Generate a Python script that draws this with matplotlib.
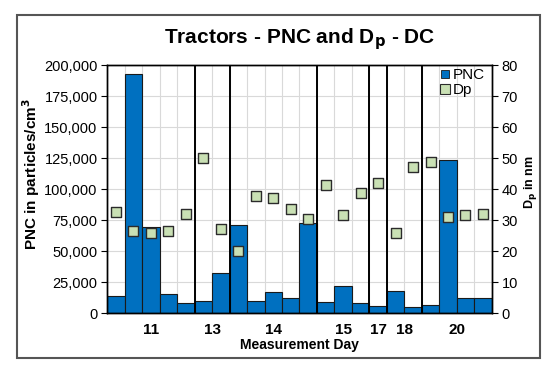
import matplotlib
matplotlib.use("Agg")
import matplotlib.pyplot as plt
from matplotlib.patches import Rectangle
from matplotlib.lines import Line2D
import numpy as np

plt.rcParams['font.family'] = ['Liberation Sans', 'DejaVu Sans']

days = ["11", "13", "14", "15", "17", "18", "20"]
bars_per_day = [5, 2, 5, 3, 1, 2, 4]
pnc = [13500, 193000, 69000, 15300, 8000,
       10000, 32000,
       71000, 10000, 16700, 12000, 73000,
       8600, 21500, 7800,
       6000,
       18000, 4800,
       6500, 123500, 12000, 12000]
dp = [32.5, 26.6, 25.8, 26.6, 32.0,
      50.0, 27.1,
      20.1, 37.6, 37.1, 33.6, 30.4,
      41.3, 31.7, 38.7,
      41.8,
      25.9, 47.2,
      48.6, 31.1, 31.6, 32.1]

fig = plt.figure(figsize=(5.5, 3.74), dpi=100)
ax = fig.add_axes([0.195, 0.163, 0.699, 0.663])
ax2 = ax.twinx()

x = np.arange(len(pnc))
ax.bar(x, pnc, width=1.0, color='#0070C0', edgecolor='#1a1a1a', linewidth=0.8, zorder=2)
ax.set_xlim(-0.5, len(pnc) - 0.5)
ax.set_ylim(0, 200000)
ax.set_yticks(np.arange(0, 200001, 25000))
ax.set_yticklabels([f"{v:,}" for v in range(0, 200001, 25000)], fontsize=10.5)
ax.yaxis.grid(True, color='#D9D9D9', linewidth=0.8, zorder=0)
for b in np.arange(-0.5, len(pnc), 1.0):
    ax.axvline(b, color='#D9D9D9', linewidth=0.8, zorder=0)
ax.set_axisbelow(True)

bounds = np.cumsum(bars_per_day)
for b in bounds[:-1]:
    ax.axvline(b - 0.5, color='black', linewidth=1.4, zorder=3)

centers = bounds - np.array(bars_per_day) / 2.0 - 0.5
ax.set_xticks(centers)
ax.set_xticklabels(days, fontsize=11, fontweight='bold')
ax.tick_params(axis='x', length=0, pad=7)
ax.tick_params(axis='y', length=4, width=0.8, pad=3)
ax.set_xlabel("Measurement Day", fontsize=10, fontweight='bold', labelpad=1)
ax.set_ylabel("PNC in particles/cm$^\\mathbf{3}$", fontsize=11, fontweight='bold')
ax.yaxis.set_label_coords(-0.17, 0.56)

ax2.scatter(x, dp, marker='s', s=60, facecolor='#C9E0B4', edgecolor='#2b2b2b', linewidth=1.0, zorder=4)
ax2.set_ylim(0, 80)
ax2.set_yticks(np.arange(0, 81, 10))
ax2.tick_params(axis='y', length=4, width=0.8, labelsize=10.5, pad=3)
ax2.set_ylabel("D$_\\mathbf{p}$ in nm", fontsize=9, fontweight='bold')
ax2.yaxis.set_label_coords(1.08, 0.53)

for s in list(ax.spines.values()) + list(ax2.spines.values()):
    s.set_linewidth(1.0)
    s.set_color('black')

handles = [Line2D([], [], marker='s', linestyle='none', markersize=6, markerfacecolor='#0070C0', markeredgecolor='#1a1a1a', markeredgewidth=0.6),
           Line2D([], [], marker='s', linestyle='none', markersize=7, markerfacecolor='#C9E0B4', markeredgecolor='#2b2b2b', markeredgewidth=0.8)]
ax2.legend(handles, ["PNC", "Dp"], loc='upper right', bbox_to_anchor=(1.01, 1.03), frameon=False,
           fontsize=11, handlelength=0.6, handletextpad=0.2, borderpad=0.2, labelspacing=0.05)

fig.text(0.545, 0.895, "Tractors - PNC and D$_\\mathbf{p}$ - DC", ha='center', va='center', fontsize=15, fontweight='bold')

fig.patches.append(Rectangle((17/550, 1 - 358/374), (540 - 17)/550, (358 - 15)/374, transform=fig.transFigure,
                             fill=False, edgecolor='#555555', linewidth=1.5, zorder=10))

fig.savefig("out.png", dpi=100)
